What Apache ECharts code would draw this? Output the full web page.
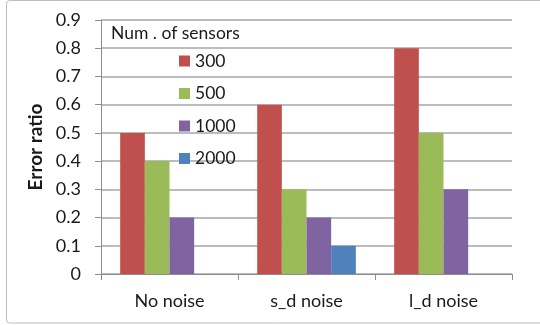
<!DOCTYPE html>
<html>
<head>
<meta charset="utf-8">
<script src="https://cdn.jsdelivr.net/npm/echarts@6/dist/echarts.min.js"></script>
<style>
  html, body { margin: 0; padding: 0; background: #fff; }
  #chart { width: 540px; height: 325px; }
</style>
</head>
<body>
<div id="chart"></div>
<script>
// Error ratio per noise condition, grouped by number of sensors
const categories = ['No noise', 's_d noise', 'l_d noise'];
const sensors300 = [0.5, 0.6, 0.8];
const sensors500 = [0.4, 0.3, 0.5];
const sensors1000 = [0.2, 0.2, 0.3];
const sensors2000 = [0, 0.1, 0];
const yTicks = [0, 0.1, 0.2, 0.3, 0.4, 0.5, 0.6, 0.7, 0.8, 0.9];

const FONT = 'Lato, "Open Sans", sans-serif';
const TEXT = '#1a1a1a';

const seriesDefs = [
  { name: '300', data: sensors300, color: '#C0504D' },
  { name: '500', data: sensors500, color: '#9BBB59' },
  { name: '1000', data: sensors1000, color: '#8064A2' },
  { name: '2000', data: sensors2000, color: '#4F81BD' }
];

const chart = echarts.init(document.getElementById('chart'), null, { renderer: 'canvas' });

chart.setOption({
  animation: false,
  backgroundColor: '#fff',
  textStyle: { fontFamily: FONT },
  graphic: [
    {
      type: 'rect',
      shape: { x: 6.5, y: 0.5, width: 540, height: 322.5, r: 3 },
      style: { fill: 'none', stroke: '#bdbdbd', lineWidth: 1 },
      silent: true
    },
    {
      type: 'text',
      left: 111,
      top: 24,
      style: { text: 'Num . of sensors', fontSize: 17.5, fontFamily: FONT, fill: TEXT },
      silent: true
    }
  ],
  legend: {
    orient: 'vertical',
    left: 174,
    top: 47,
    itemWidth: 11,
    itemHeight: 11,
    itemGap: 14.5,
    icon: 'rect',
    textStyle: { fontSize: 17.5, color: TEXT, fontFamily: FONT, padding: [0, 0, 0, 0] },
    data: seriesDefs.map(s => s.name)
  },
  grid: { left: 101, right: 28, top: 20, bottom: 51 },
  xAxis: {
    type: 'category',
    data: categories,
    axisLine: { lineStyle: { color: '#8c8c8c', width: 1 } },
    axisTick: { show: true, length: 6, alignWithLabel: false, lineStyle: { color: '#8c8c8c' } },
    axisLabel: { fontSize: 18, color: TEXT, margin: 18, fontFamily: FONT }
  },
  yAxis: {
    type: 'value',
    min: 0,
    max: 0.9,
    interval: 0.1,
    name: 'Error ratio',
    nameLocation: 'middle',
    nameGap: 54,
    nameRotate: 90,
    nameTextStyle: { fontSize: 19, fontWeight: 'bold', color: TEXT, fontFamily: FONT },
    axisLine: { show: true, lineStyle: { color: '#8c8c8c', width: 1 } },
    axisTick: { show: true, length: 6, inside: false, lineStyle: { color: '#8c8c8c' } },
    axisLabel: {
      fontSize: 18, color: TEXT, margin: 20, fontFamily: FONT,
      formatter: v => {
        const t = yTicks.find(x => Math.abs(x - v) < 1e-9);
        return t === undefined ? '' : (t === 0 ? '0' : t.toFixed(1));
      }
    },
    splitLine: { show: true, lineStyle: { color: '#a6a6a6', width: 1.5 } }
  },
  series: seriesDefs.map(s => ({
    name: s.name,
    type: 'bar',
    data: s.data,
    barGap: '0%',
    barCategoryGap: '28%',
    itemStyle: { color: s.color },
    emphasis: { disabled: true }
  }))
});
</script>
</body>
</html>
